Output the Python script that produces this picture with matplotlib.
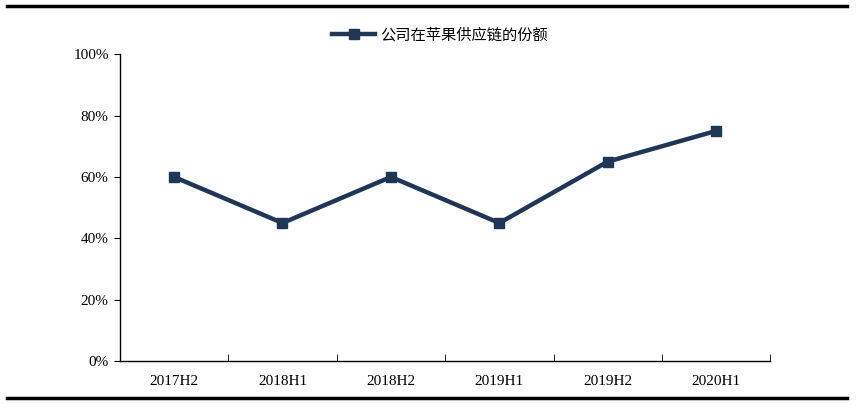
import numpy as np
import matplotlib.pyplot as plt
from matplotlib.lines import Line2D
from matplotlib.ticker import FuncFormatter

plt.rcParams['font.family'] = ['Liberation Serif', 'Noto Sans CJK SC', 'DejaVu Sans']

periods = ['2017H2', '2018H1', '2018H2', '2019H1', '2019H2', '2020H1']
share = [60, 45, 60, 45, 65, 75]
series_name = '公司在苹果供应链的份额'

navy = '#1f3656'

fig = plt.figure(figsize=(8.56, 4.04), dpi=100)
ax = fig.add_axes([0.140, 0.106, 0.760, 0.760])

x = np.arange(len(periods))
ax.plot(x, share, color=navy, lw=3.2, marker='s', ms=7, label=series_name)

ax.set_xlim(-0.5, len(periods) - 0.5)
ax.set_ylim(0, 100)
ax.set_yticks(np.arange(0, 101, 20))
ax.yaxis.set_major_formatter(FuncFormatter(lambda v, p: f'{v:.0f}%'))
ax.tick_params(axis='y', direction='out', length=4, labelsize=11, pad=4)

ax.set_xticks(x)
ax.set_xticklabels(periods)
ax.set_xticks(np.arange(-0.5, len(periods)), minor=True)
ax.tick_params(axis='x', which='major', length=0, labelsize=11, pad=10)
ax.tick_params(axis='x', which='minor', direction='in', length=5)

for s in ['top', 'right']:
    ax.spines[s].set_visible(False)
for s in ['left', 'bottom']:
    ax.spines[s].set_linewidth(1)

leg = fig.legend(loc='center', bbox_to_anchor=(0.514, 0.913), frameon=False,
                 handlelength=2.8, handletextpad=0.3,
                 prop={'family': ['Noto Sans CJK SC'], 'size': 11})

fig.add_artist(Line2D([0.008, 0.99], [0.985, 0.985], color='black', lw=2.5))
fig.add_artist(Line2D([0.008, 0.99], [0.015, 0.015], color='black', lw=2.5))

fig.savefig('out.png', dpi=100)
